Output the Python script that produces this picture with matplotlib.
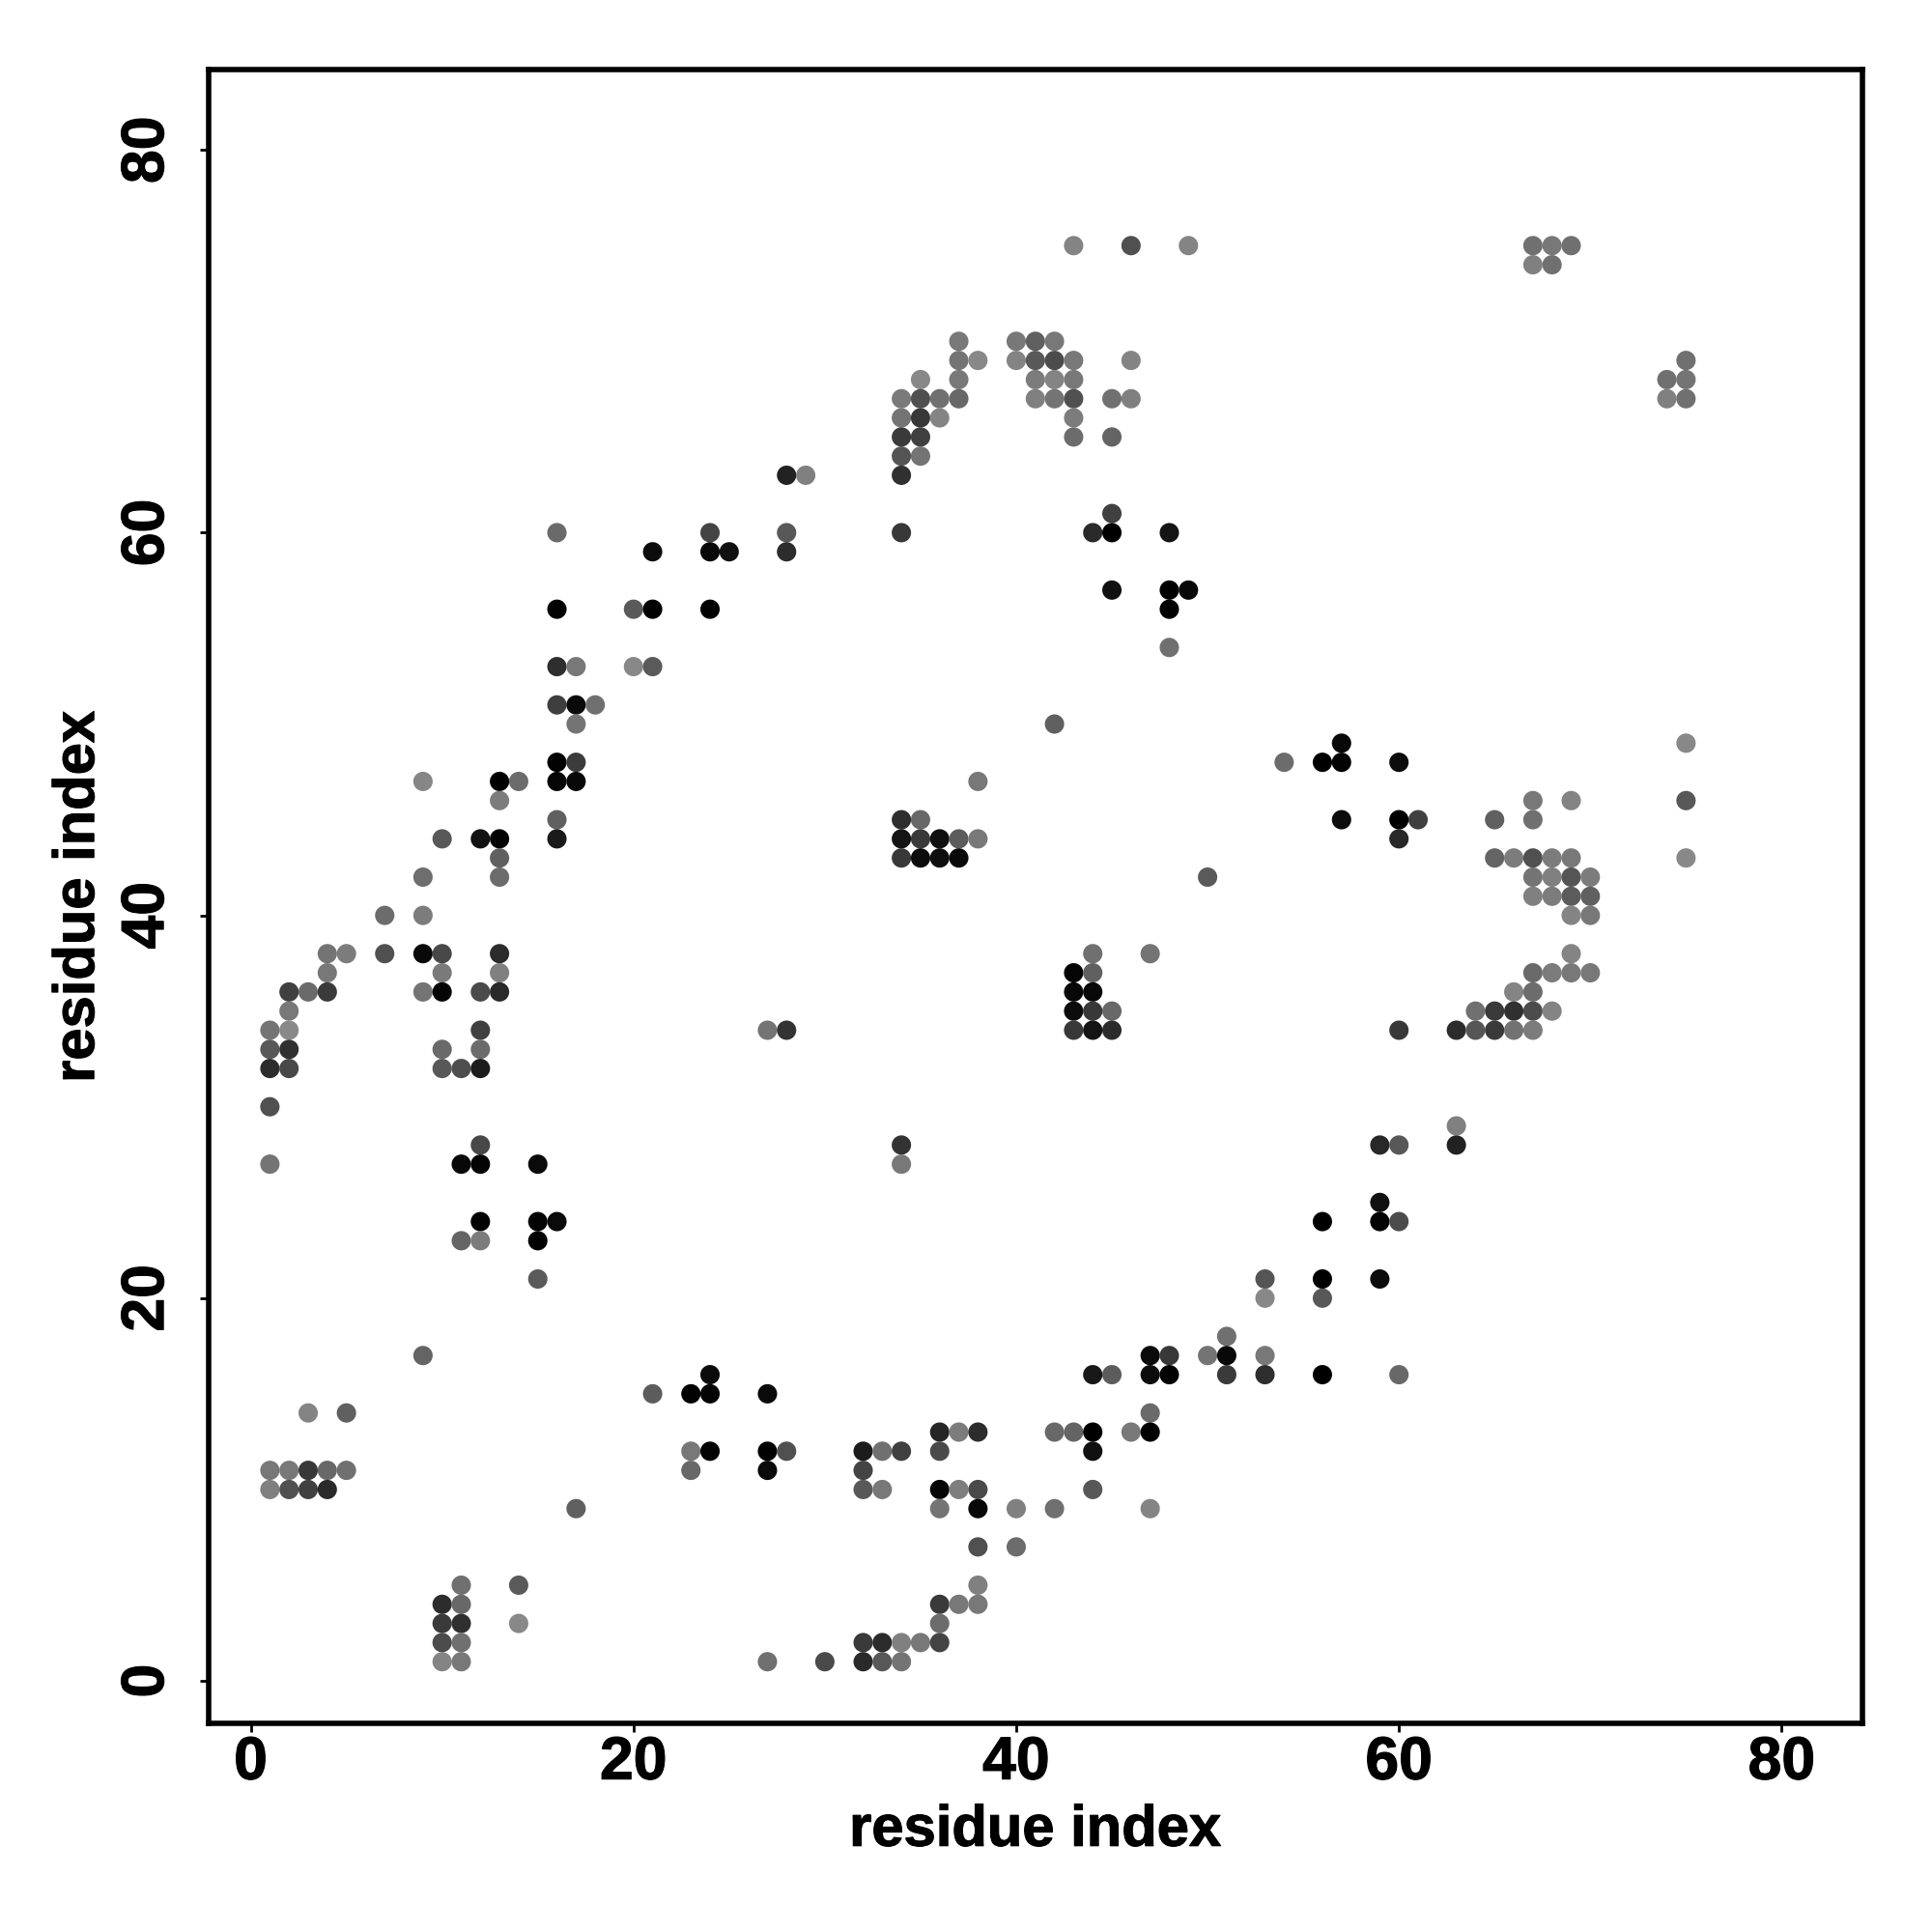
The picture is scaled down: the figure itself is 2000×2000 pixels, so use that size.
import matplotlib
matplotlib.use('Agg')
import matplotlib.pyplot as plt
import matplotlib.patheffects as pe

# one entry per row of the contact map: y, then x positions and grey levels (0-255)
row_y = [75, 74, 70, 69, 68, 67, 66, 65, 64, 63, 61, 60, 59, 57, 56, 54, 53, 51, 50,
         49, 48, 47, 46, 45, 44, 43, 42, 41, 40, 38, 37, 36, 35, 34, 33, 32, 30, 29,
         28, 27, 25, 24, 23, 21, 20, 18, 17, 16, 15, 14, 13, 12, 11, 10, 9, 7, 5, 4,
         3, 2, 1]

row_x = [
    [43, 46, 49, 67, 68, 69],
    [67, 68],
    [37, 40, 41, 42],
    [37, 38, 40, 41, 42, 43, 46, 75],
    [35, 37, 41, 42, 43, 74, 75],
    [34, 35, 36, 37, 41, 42, 43, 45, 46, 74, 75],
    [34, 35, 36, 43],
    [34, 35, 43, 45],
    [34, 35],
    [28, 29, 34],
    [45],
    [16, 24, 28, 34, 44, 45, 48],
    [21, 24, 25, 28],
    [45, 48, 49],
    [16, 20, 21, 24, 48],
    [48],
    [16, 17, 20, 21],
    [16, 17, 18],
    [17, 42],
    [57, 75],
    [16, 17, 54, 56, 57, 60],
    [9, 13, 14, 16, 17, 38],
    [13, 67, 69, 75],
    [16, 34, 35, 57, 60, 61, 65, 67],
    [10, 12, 13, 16, 34, 35, 36, 37, 38, 60],
    [13, 34, 35, 36, 37, 65, 66, 67, 68, 69, 75],
    [9, 13, 50, 67, 68, 69, 70],
    [67, 68, 69, 70],
    [7, 9, 69, 70],
    [4, 5, 7, 9, 10, 13, 44, 47, 69],
    [4, 10, 13, 43, 44, 67, 68, 69, 70],
    [2, 3, 4, 9, 10, 12, 13, 43, 44, 66, 67],
    [2, 43, 44, 45, 64, 65, 66, 67, 68],
    [1, 2, 12, 27, 28, 43, 44, 45, 60, 63, 64, 65, 66, 67],
    [1, 2, 10, 12],
    [1, 2, 10, 11, 12],
    [1],
    [63],
    [12, 34, 59, 60, 63],
    [1, 11, 12, 15, 34],
    [59],
    [12, 15, 16, 56, 59, 60],
    [11, 12, 15],
    [15, 53, 56, 59],
    [53, 56],
    [51],
    [9, 47, 48, 50, 51, 53],
    [24, 44, 45, 47, 48, 51, 53, 56, 60],
    [21, 23, 24, 27],
    [3, 5, 47],
    [36, 37, 38, 42, 43, 44, 46, 47],
    [23, 24, 27, 28, 32, 33, 34, 36, 44],
    [1, 2, 3, 4, 5, 23, 27, 32],
    [1, 2, 3, 4, 32, 33, 36, 37, 38, 44],
    [17, 36, 38, 40, 42, 47],
    [38, 40],
    [11, 14, 38],
    [10, 11, 36, 37, 38],
    [10, 11, 14, 36],
    [10, 11, 32, 33, 34, 35, 36],
    [10, 11, 27, 30, 32, 33, 34],
]

row_gray = [
    [0x84, 0x50, 0x84, 0x70, 0x78, 0x70],
    [0x80, 0x70],
    [0x78, 0x78, 0x60, 0x78],
    [0x74, 0x88, 0x84, 0x58, 0x4c, 0x78, 0x84, 0x70],
    [0x88, 0x78, 0x7c, 0x84, 0x78, 0x70, 0x74],
    [0x7a, 0x50, 0x70, 0x68, 0x80, 0x74, 0x50, 0x70, 0x80, 0x80, 0x70],
    [0x74, 0x38, 0x84, 0x7c],
    [0x3a, 0x40, 0x6c, 0x64],
    [0x54, 0x74],
    [0x22, 0x80, 0x30],
    [0x40],
    [0x6a, 0x44, 0x58, 0x38, 0x2a, 0x00, 0x14],
    [0x0c, 0x08, 0x10, 0x2c],
    [0x10, 0x00, 0x08],
    [0x02, 0x5a, 0x02, 0x02, 0x02],
    [0x70],
    [0x2e, 0x78, 0x88, 0x5a],
    [0x3e, 0x0a, 0x70],
    [0x74, 0x60],
    [0x08, 0x88],
    [0x02, 0x3c, 0x6c, 0x00, 0x02, 0x0c],
    [0x86, 0x00, 0x6c, 0x06, 0x08, 0x78],
    [0x7c, 0x78, 0x84, 0x58],
    [0x60, 0x2e, 0x68, 0x0c, 0x00, 0x40, 0x60, 0x70],
    [0x58, 0x12, 0x02, 0x1a, 0x14, 0x3a, 0x10, 0x5c, 0x78, 0x28],
    [0x60, 0x38, 0x0c, 0x0e, 0x0a, 0x64, 0x7c, 0x50, 0x7c, 0x78, 0x88],
    [0x6e, 0x6c, 0x5a, 0x74, 0x80, 0x55, 0x7c],
    [0x80, 0x7c, 0x5c, 0x60],
    [0x6c, 0x7c, 0x84, 0x78],
    [0x74, 0x7c, 0x50, 0x0a, 0x48, 0x2c, 0x70, 0x74, 0x84],
    [0x78, 0x7a, 0x80, 0x05, 0x60, 0x6a, 0x7c, 0x78, 0x78],
    [0x40, 0x6a, 0x3a, 0x74, 0x05, 0x4a, 0x2a, 0x08, 0x08, 0x84, 0x6c],
    [0x78, 0x0c, 0x38, 0x68, 0x70, 0x3a, 0x30, 0x4c, 0x84],
    [0x74, 0x88, 0x40, 0x74, 0x33, 0x38, 0x14, 0x2c, 0x38, 0x2c, 0x56, 0x3a, 0x72, 0x7c],
    [0x58, 0x30, 0x6a, 0x6c],
    [0x2c, 0x48, 0x58, 0x4e, 0x1c],
    [0x50],
    [0x80],
    [0x48, 0x33, 0x28, 0x58, 0x22],
    [0x74, 0x08, 0x04, 0x0a, 0x78],
    [0x10],
    [0x02, 0x04, 0x0a, 0x00, 0x04, 0x4c],
    [0x64, 0x7c, 0x02],
    [0x5a, 0x55, 0x00, 0x0c],
    [0x88, 0x58],
    [0x70],
    [0x64, 0x0a, 0x38, 0x74, 0x08, 0x78],
    [0x0a, 0x18, 0x5c, 0x0c, 0x02, 0x3a, 0x2e, 0x00, 0x68],
    [0x5c, 0x02, 0x04, 0x0a],
    [0x84, 0x60, 0x6a],
    [0x26, 0x7c, 0x2c, 0x68, 0x64, 0x00, 0x78, 0x00],
    [0x78, 0x04, 0x02, 0x50, 0x1c, 0x70, 0x40, 0x4a, 0x10],
    [0x78, 0x78, 0x38, 0x68, 0x70, 0x68, 0x0a, 0x44],
    [0x80, 0x50, 0x40, 0x2a, 0x58, 0x78, 0x06, 0x7e, 0x4a, 0x58],
    [0x60, 0x74, 0x08, 0x80, 0x70, 0x84],
    [0x50, 0x6c],
    [0x70, 0x5a, 0x80],
    [0x2c, 0x68, 0x3a, 0x78, 0x78],
    [0x3a, 0x30, 0x88, 0x6c],
    [0x4c, 0x70, 0x3a, 0x2c, 0x80, 0x78, 0x44],
    [0x84, 0x78, 0x70, 0x4a, 0x2a, 0x58, 0x74],
]

tick_values = [0, 20, 40, 60, 80]

plt.rcParams['font.family'] = ['Liberation Sans', 'DejaVu Sans']
plt.rcParams['font.weight'] = 'bold'

x = []
y = []
gray = []
for yy, xs, gs in zip(row_y, row_x, row_gray):
    for xx, g in zip(xs, gs):
        x.append(xx)
        y.append(yy)
        gray.append(g)

fig = plt.figure(figsize=(10, 10), dpi=200)
ax = fig.add_axes([0.108, 0.108, 0.8558, 0.8558])
ax.scatter(x, y, c=gray, cmap='gray', vmin=0, vmax=255, s=52, linewidths=0)

ax.set_xlim(-2.2, 84.2)
ax.set_ylim(-2.22, 84.18)
ax.set_xticks(tick_values)
ax.set_yticks(tick_values)
ax.tick_params(axis='both', length=3.2, width=1.0, labelsize=22.5)
ax.tick_params(axis='x', pad=1)
ax.tick_params(axis='y', pad=9)
for lab in ax.get_yticklabels():
    lab.set_rotation(90)
    lab.set_va('center')

for sp in ax.spines.values():
    sp.set_linewidth(2.0)

ax.set_xlabel('residue index', fontsize=21.5, fontweight='bold', va='center')
ax.set_ylabel('residue index', fontsize=21.5, fontweight='bold', va='center')
ax.xaxis.set_label_coords(0.5, -0.065)
ax.yaxis.set_label_coords(-0.0785, 0.5)

# the reference lettering is a little heavier than Liberation bold
thicker = [pe.withStroke(linewidth=0.4, foreground='black')]
for t in ax.get_xticklabels() + ax.get_yticklabels() + [ax.xaxis.label, ax.yaxis.label]:
    t.set_path_effects(thicker)

fig.savefig('out.png', dpi=200)
